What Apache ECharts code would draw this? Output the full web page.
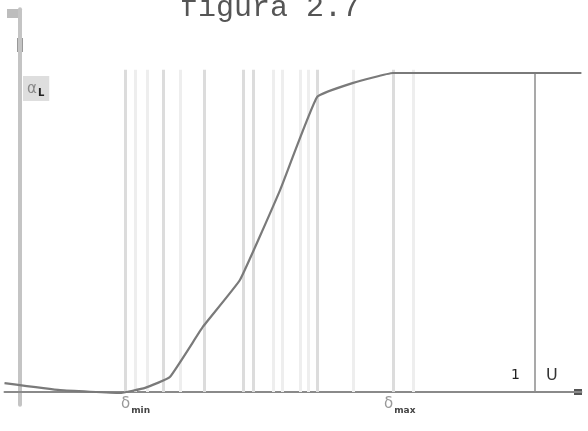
<!DOCTYPE html>
<html>
<head>
<meta charset="utf-8">
<script src="https://cdn.jsdelivr.net/npm/echarts@6/dist/echarts.min.js"></script>
<style>
  html, body { margin: 0; padding: 0; background: #fff; }
  #chart { width: 588px; height: 431px; }
</style>
</head>
<body>
<div id="chart"></div>
<script>
  // curve: U (x, 1 = marked line) and alpha / alpha_L (y)
  var uValues = [-0.03, 0.078, 0.194, 0.243, 0.291, 0.355, 0.427, 0.505, 0.577, 0.647, 0.724, 1.09];
  var alphaValues = [0.028, 0.006, -0.003, 0.013, 0.047, 0.204, 0.351, 0.633, 0.925, 0.969, 1.0, 1.0];
  // faint vertical construction lines
  var guideDark = [0.204, 0.278, 0.357, 0.433, 0.452, 0.577, 0.724];
  var guideLight = [0.223, 0.247, 0.311, 0.491, 0.509, 0.544, 0.559, 0.647, 0.763];
  var guideTop = 1.01;
  var uMark = 1;

  var curve = [];
  for (var i = 0; i < uValues.length; i++) {
    curve.push([uValues[i], alphaValues[i]]);
  }

  function guideLines(list, color, width) {
    var out = [];
    for (var i = 0; i < list.length; i++) {
      out.push([
        {coord: [list[i], 0], lineStyle: {color: color, width: width, type: 'solid'}},
        {coord: [list[i], guideTop]}
      ]);
    }
    return out;
  }

  var chart = echarts.init(document.getElementById('chart'));
  var option = {
    animation: false,
    backgroundColor: '#fff',
    grid: {left: 4.5, right: 6.6, top: 9.2, bottom: 26.2},
    xAxis: {
      type: 'value',
      min: -0.03,
      max: 1.09,
      axisLine: {onZero: true, lineStyle: {color: '#8a8a8a', width: 2}},
      axisTick: {show: false},
      axisLabel: {show: false},
      splitLine: {show: false}
    },
    yAxis: {
      type: 'value',
      min: -0.04,
      max: 1.2,
      axisLine: {onZero: true, lineStyle: {color: '#c4c4c4', width: 4}},
      axisTick: {show: false},
      axisLabel: {show: false},
      splitLine: {show: false}
    },
    series: [
      {
        type: 'line',
        data: [],
        silent: true,
        z: 1,
        markLine: {
          symbol: 'none',
          silent: true,
          label: {show: false},
          lineStyle: {type: 'solid'},
          data: guideLines(guideLight, '#eeeeee', 3)
            .concat(guideLines(guideDark, '#dcdcdc', 3))
            .concat([[
              {coord: [uMark, 0], lineStyle: {color: '#8c8c8c', width: 1.5, type: 'solid'}},
              {coord: [uMark, 1.0]}
            ]])
        }
      },
      {
        type: 'line',
        data: curve,
        z: 5,
        smooth: 0.1,
        symbol: 'none',
        lineStyle: {color: '#7a7a7a', width: 2.2}
      }
    ],
    graphic: [
      {type: 'rect', shape: {x: 7, y: 9, width: 13, height: 9}, style: {fill: '#bdbdbd'}},
      {type: 'rect', shape: {x: 17, y: 38, width: 6, height: 14}, style: {fill: '#999'}},
      {
        type: 'text', left: 180, top: -7,
        style: {text: 'figura 2.7', font: '30px "Liberation Mono"', fill: '#555'}
      },
      {
        type: 'text', left: 23, top: 76,
        style: {
          text: '{a|α}{s|L}',
          backgroundColor: '#dedede',
          padding: [4, 5, 3, 4],
          rich: {
            a: {fontSize: 15, fill: '#888', fontFamily: 'DejaVu Sans'},
            s: {fontSize: 10, fill: '#222', fontWeight: 'bold', padding: [8, 0, 0, 1], fontFamily: 'DejaVu Sans'}
          }
        }
      },
      {
        type: 'text', left: 121, top: 397,
        style: {
          text: '{a|δ}{s|min}',
          rich: {
            a: {fontSize: 15, fill: '#999', fontFamily: 'DejaVu Sans'},
            s: {fontSize: 9, fill: '#444', fontWeight: 'bold', padding: [12, 0, 0, 1], fontFamily: 'DejaVu Sans'}
          }
        }
      },
      {
        type: 'text', left: 384, top: 397,
        style: {
          text: '{a|δ}{s|max}',
          rich: {
            a: {fontSize: 15, fill: '#999', fontFamily: 'DejaVu Sans'},
            s: {fontSize: 9, fill: '#444', fontWeight: 'bold', padding: [12, 0, 0, 1], fontFamily: 'DejaVu Sans'}
          }
        }
      },
      {type: 'text', left: 511, top: 368, style: {text: '1', font: '14px "DejaVu Sans"', fill: '#222'}},
      {type: 'text', left: 546, top: 368, style: {text: 'U', font: '16px "DejaVu Sans"', fill: '#333'}},
      {type: 'rect', shape: {x: 574, y: 389, width: 8, height: 6}, style: {fill: '#555'}}
    ]
  };
  chart.setOption(option);
</script>
</body>
</html>
